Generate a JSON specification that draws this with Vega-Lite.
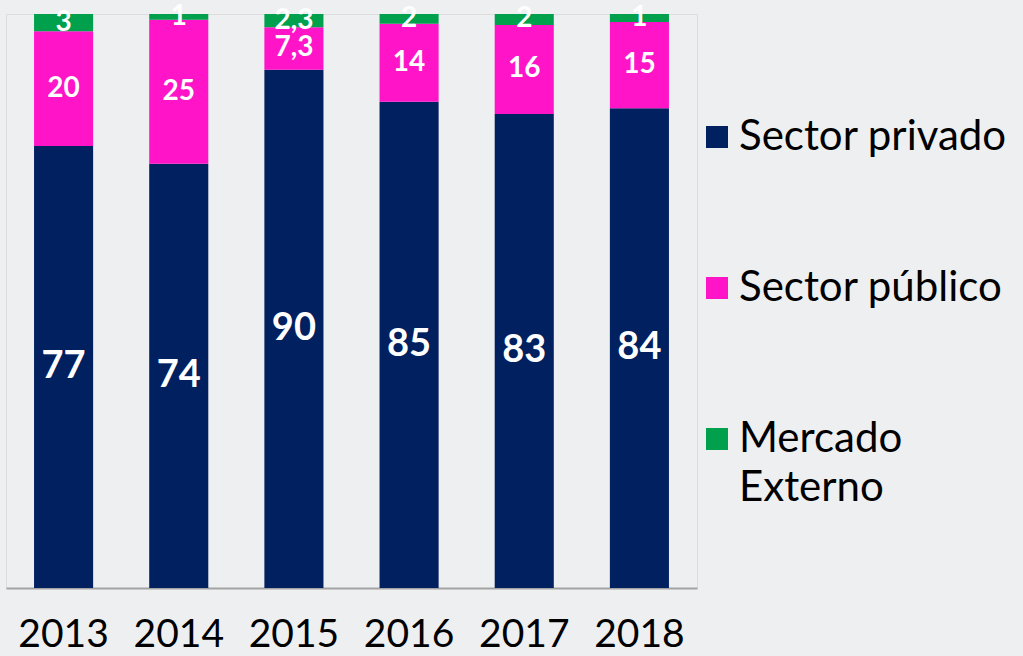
{
  "$schema": "https://vega.github.io/schema/vega-lite/v6.json",
  "width": 691,
  "height": 574,
  "autosize": {"type": "none"},
  "padding": {"left": 6, "top": 14, "right": 326, "bottom": 68},
  "background": "#eeeff1",
  "data": {
    "values": [
      {"anio": "2013", "serie": "Sector privado", "valor": 77.0, "etiqueta": "77"},
      {"anio": "2013", "serie": "Sector público", "valor": 20.0, "etiqueta": "20"},
      {"anio": "2013", "serie": "Mercado Externo", "valor": 3.0, "etiqueta": "3"},
      {"anio": "2014", "serie": "Sector privado", "valor": 73.9, "etiqueta": "74"},
      {"anio": "2014", "serie": "Sector público", "valor": 25.1, "etiqueta": "25"},
      {"anio": "2014", "serie": "Mercado Externo", "valor": 1.0, "etiqueta": "1"},
      {"anio": "2015", "serie": "Sector privado", "valor": 90.3, "etiqueta": "90"},
      {"anio": "2015", "serie": "Sector público", "valor": 7.4, "etiqueta": "7,3"},
      {"anio": "2015", "serie": "Mercado Externo", "valor": 2.3, "etiqueta": "2,3"},
      {"anio": "2016", "serie": "Sector privado", "valor": 84.7, "etiqueta": "85"},
      {"anio": "2016", "serie": "Sector público", "valor": 13.6, "etiqueta": "14"},
      {"anio": "2016", "serie": "Mercado Externo", "valor": 1.7, "etiqueta": "2"},
      {"anio": "2017", "serie": "Sector privado", "valor": 82.6, "etiqueta": "83"},
      {"anio": "2017", "serie": "Sector público", "valor": 15.5, "etiqueta": "16"},
      {"anio": "2017", "serie": "Mercado Externo", "valor": 1.9, "etiqueta": "2"},
      {"anio": "2018", "serie": "Sector privado", "valor": 83.6, "etiqueta": "84"},
      {"anio": "2018", "serie": "Sector público", "valor": 15.0, "etiqueta": "15"},
      {"anio": "2018", "serie": "Mercado Externo", "valor": 1.4, "etiqueta": "1"}
    ]
  },
  "transform": [
    {"calculate": "indexof(['Sector privado','Sector público','Mercado Externo'], datum.serie)", "as": "orden"},
    {"stack": "valor", "groupby": ["anio"], "sort": [{"field": "orden", "order": "ascending"}], "as": ["y0", "y1"]},
    {"calculate": "(datum.y0 + datum.y1) / 2", "as": "ymid"}
  ],
  "encoding": {
    "x": {
      "field": "anio",
      "type": "ordinal",
      "scale": {"paddingInner": 0.487, "paddingOuter": 0.2435},
      "axis": {
        "title": null,
        "labelAngle": 0,
        "ticks": false,
        "domainColor": "#a3a3a3",
        "domainWidth": 2,
        "labelFont": "Lato",
        "labelFontSize": 39,
        "labelColor": "#000000",
        "labelPadding": 27
      }
    }
  },
  "layer": [
    {
      "mark": {"type": "bar"},
      "encoding": {
        "y": {"field": "y0", "type": "quantitative", "scale": {"domain": [0, 100]}, "axis": null},
        "y2": {"field": "y1"},
        "color": {
          "field": "serie",
          "type": "nominal",
          "scale": {
            "domain": ["Sector privado", "Sector público", "Mercado Externo"],
            "range": ["#00205f", "#ff14c8", "#00a04c"]
          },
          "legend": {
            "title": null,
            "orient": "none",
            "legendX": 690,
            "legendY": 102,
            "symbolType": "square",
            "symbolSize": 484,
            "symbolStrokeWidth": 0,
            "symbolOpacity": 1,
            "labelFont": "Lato",
            "labelFontSize": 42,
            "labelColor": "#000000",
            "labelOffset": 1,
            "labelLimit": 400,
            "rowPadding": 109,
            "padding": 0,
            "labelExpr": "datum.label == 'Mercado Externo' ? ['Mercado', 'Externo'] : datum.label",
            "encode": {"labels": {"update": {"lineHeight": {"value": 49}}}}
          }
        }
      }
    },
    {
      "mark": {"type": "text", "color": "#ffffff", "fontWeight": "bold", "font": "Lato", "baseline": "middle", "align": "center"},
      "encoding": {
        "y": {"field": "ymid", "type": "quantitative", "scale": {"domain": [0, 100]}},
        "text": {"field": "etiqueta"},
        "size": {
          "condition": {"test": "datum.serie == 'Sector privado'", "value": 38},
          "value": 28
        }
      }
    }
  ]
}
